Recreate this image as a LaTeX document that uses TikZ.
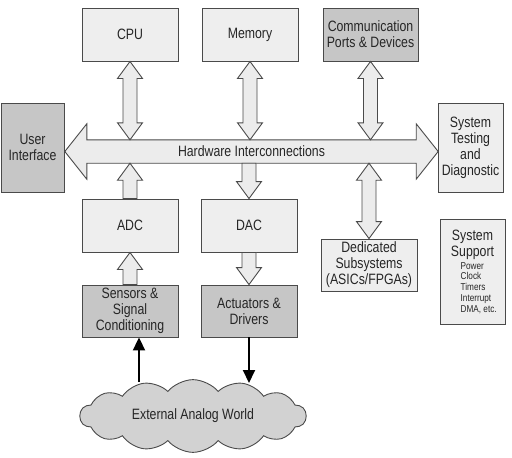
\documentclass[tikz,border=0pt]{standalone}
\usepackage{fontspec}
\setmainfont[FakeStretch=0.82]{Liberation Sans}
\usetikzlibrary{calc,arrows.meta,shapes.symbols}

\definecolor{boxlight}{HTML}{EEEEEE}
\definecolor{boxdark}{HTML}{C6C6C6}
\definecolor{cloudgray}{HTML}{D2D2D2}
\definecolor{arrowfill}{HTML}{ECECEC}
\definecolor{edgegray}{HTML}{4A4A4A}

% block arrows, #1 = upper end, #2 = lower end
\newcommand{\twoway}[2]{\draw[blk] let \p1=(#1), \p2=(#2) in
  (\x1,\y1) -- (\x1+12.5pt,\y1-17pt) -- (\x1+7pt,\y1-17pt) -- (\x1+7pt,\y2+17pt) -- (\x1+12.5pt,\y2+17pt)
  -- (\x1,\y2) -- (\x1-12.5pt,\y2+17pt) -- (\x1-7pt,\y2+17pt) -- (\x1-7pt,\y1-17pt) -- (\x1-12.5pt,\y1-17pt) -- cycle;}
\newcommand{\upward}[2]{\draw[blk] let \p1=(#1), \p2=(#2) in
  (\x1,\y1) -- (\x1+12.5pt,\y1-17pt) -- (\x1+7pt,\y1-17pt) -- (\x1+7pt,\y2)
  -- (\x1-7pt,\y2) -- (\x1-7pt,\y1-17pt) -- (\x1-12.5pt,\y1-17pt) -- cycle;}
\newcommand{\downward}[2]{\draw[blk] let \p1=(#1), \p2=(#2) in
  (\x1-7pt,\y1) -- (\x1+7pt,\y1) -- (\x1+7pt,\y2+17pt) -- (\x1+12.5pt,\y2+17pt)
  -- (\x1,\y2) -- (\x1-12.5pt,\y2+17pt) -- (\x1-7pt,\y2+17pt) -- cycle;}

\begin{document}
\begin{tikzpicture}[x=1pt,y=-1pt,font=\fontsize{15}{16}\selectfont,text=black!85,
  box/.style={draw=edgegray,line width=0.9pt,fill=boxlight,minimum width=96pt,minimum height=53pt,align=center,inner sep=1pt},
  dbox/.style={box,fill=boxdark},
  blk/.style={draw=edgegray,line width=0.9pt,fill=arrowfill,line join=miter},
  sig/.style={line width=2pt,-{Triangle[length=13pt,width=12pt]}}]
\useasboundingbox (0,0) rectangle (512,458);

% top row
\node[box] (cpu) at (130,34.5) {CPU};
\node[box] (mem) at (250,34.5) {Memory};
\node[dbox,minimum width=95pt] (comm) at (370.5,34.5) {Communication\\Ports \& Devices};

% sides
\node[dbox,minimum width=63pt,minimum height=89pt] (ui) at (32.5,147.5) {User\\Interface};
\node[box,minimum width=65pt,minimum height=89pt] (test) at (470.5,147.5) {System\\Testing\\and\\Diagnostic};

% bus
\node[minimum width=329pt,minimum height=23pt,inner sep=0pt] (bus) at (251.5,151.5) {};
\draw[blk] (bus.north west) -- (bus.north east) -- ++(0pt,16pt) -- ([xshift=22pt]bus.east)
  -- ([yshift=-16pt]bus.south east) -- (bus.south east) -- (bus.south west) -- ++(0pt,-16pt)
  -- ([xshift=-22pt]bus.west) -- ([yshift=16pt]bus.north west) -- cycle;
\node (bustxt) at (bus) {Hardware Interconnections};

% lower rows
\node[box] (adc) at (130,225.5) {ADC};
\node[box] (dac) at (249,225.5) {DAC};
\node[box,minimum height=52pt] (ded) at (369,265) {Dedicated\\Subsystems\\(ASICs/FPGAs)};
\node[dbox,minimum height=52pt] (sens) at (130,311) {Sensors \&\\Signal\\Conditioning};
\node[dbox,minimum height=52pt] (act) at (249,311) {Actuators \&\\Drivers};

% system support
\node[box,minimum width=65pt,minimum height=105pt] (sup) at (472.5,271.5) {};
\node[align=center,inner sep=0pt,font=\fontsize{15}{15.7}\selectfont] (suptitle) at (472.5,245) {System\\Support};
\node[align=left,anchor=west,inner sep=0pt,font=\fontsize{10}{10.9}\selectfont] (suplist) at (460.5,288) {Power\\Clock\\Timers\\Interrupt\\DMA, etc.};

% connections
\twoway{cpu.south}{cpu.south |- bus.north}
\twoway{mem.south}{mem.south |- bus.north}
\twoway{comm.south}{comm.south |- bus.north}
\upward{adc.north |- bus.south}{adc.north}
\downward{dac.north |- bus.south}{dac.north}
\twoway{ded.north |- bus.south}{ded.north}
\upward{adc.south}{sens.north}
\downward{dac.south}{act.north}

% analog world
\node[cloud,cloud puffs=14,cloud puff arc=100,aspect=3.3,draw=edgegray,line width=0.9pt,fill=cloudgray,
  minimum width=226pt,minimum height=68pt] (world) at (193,416) {External Analog World};
\coordinate (cin) at (139,382);
\coordinate (cout) at (249,383);
\draw[sig] (cin) -- (cin |- sens.south);
\draw[sig] (act.south) -- (cout);
\end{tikzpicture}
\end{document}
